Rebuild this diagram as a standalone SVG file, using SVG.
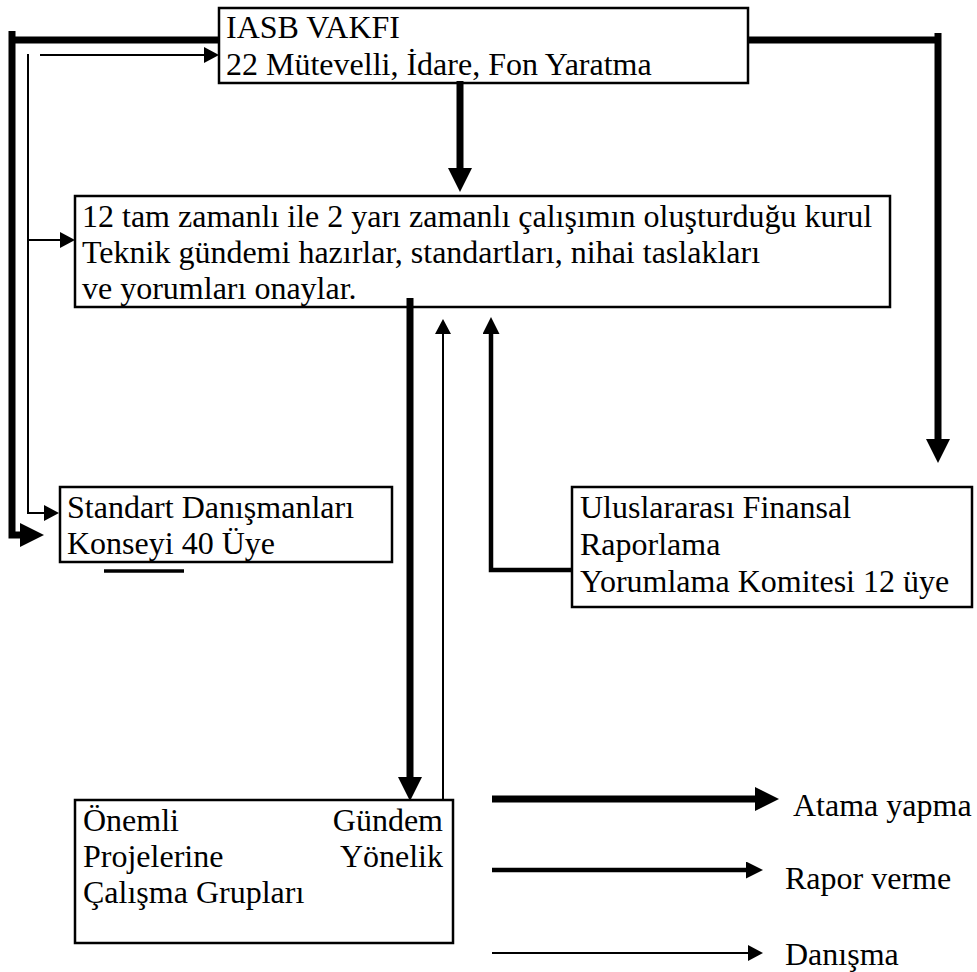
<svg xmlns="http://www.w3.org/2000/svg" width="977" height="972" viewBox="0 0 977 972">
<style>
  .box { fill: #ffffff; stroke: #000000; stroke-width: 2.5; }
  .t { font-family: "Liberation Serif", "Times New Roman", serif; font-size: 32px; fill: #000000; }
  .thick { fill: none; stroke: #000000; stroke-width: 7; stroke-linejoin: miter; }
  .med { fill: none; stroke: #000000; stroke-width: 4.5; }
  .thin { fill: none; stroke: #000000; stroke-width: 2; }
</style>
<defs>
  <marker id="hThick" markerUnits="userSpaceOnUse" markerWidth="24" markerHeight="24" viewBox="0 0 24 24" refX="0" refY="12" orient="auto">
    <path d="M0,0 L24,12 L0,24 z" fill="#000000"/>
  </marker>
  <marker id="hMed" markerUnits="userSpaceOnUse" markerWidth="17" markerHeight="17" viewBox="0 0 17 17" refX="0" refY="8.5" orient="auto">
    <path d="M0,0 L17,8.5 L0,17 z" fill="#000000"/>
  </marker>
  <marker id="hThin" markerUnits="userSpaceOnUse" markerWidth="15" markerHeight="16" viewBox="0 0 15 16" refX="0" refY="8" orient="auto">
    <path d="M0,0 L15,8 L0,16 z" fill="#000000"/>
  </marker>
</defs>
<rect x="0" y="0" width="977" height="972" fill="#ffffff"/>

<g id="iasb">
  <rect class="box" x="219" y="8" width="529" height="75"/>
  <text class="t" x="226" y="38">IASB VAKFI</text>
  <text class="t" x="226" y="75">22 Mütevelli, İdare, Fon Yaratma</text>
</g>

<g id="kurul">
  <rect class="box" x="75" y="196" width="815" height="111"/>
  <text class="t" x="82" y="227">12 tam zamanlı ile 2 yarı zamanlı çalışımın oluşturduğu kurul</text>
  <text class="t" x="82" y="263">Teknik gündemi hazırlar, standartları, nihai taslakları</text>
  <text class="t" x="82" y="299">ve yorumları onaylar.</text>
</g>

<g id="standart">
  <rect class="box" x="60" y="487" width="332" height="75"/>
  <text class="t" x="67" y="518">Standart Danışmanları</text>
  <text class="t" x="67" y="554">Konseyi 40 Üye</text>
  <line x1="104" y1="571" x2="184" y2="571" stroke="#000000" stroke-width="3.5"/>
</g>

<g id="yorumlama">
  <rect class="box" x="572" y="487" width="400" height="120"/>
  <text class="t" x="580" y="518">Uluslararası Finansal</text>
  <text class="t" x="580" y="555">Raporlama</text>
  <text class="t" x="580" y="592">Yorumlama Komitesi 12 üye</text>
</g>

<g id="calisma">
  <rect class="box" x="75" y="800" width="378" height="143"/>
  <text class="t" x="83" y="831">Önemli</text>
  <text class="t" x="443" y="831" text-anchor="end">Gündem</text>
  <text class="t" x="83" y="867">Projelerine</text>
  <text class="t" x="443" y="867" text-anchor="end">Yönelik</text>
  <text class="t" x="83" y="903">Çalışma Grupları</text>
</g>

<g id="connectors">
  <path class="thick" d="M12,40 H219"/>
  <path class="thick" d="M12,31 V535 H20" marker-end="url(#hThick)"/>
  <path class="thick" d="M748,40 H938"/>
  <path class="thick" d="M938,33 V439" marker-end="url(#hThick)"/>
  <path class="thick" d="M460,81 V168" marker-end="url(#hThick)"/>
  <path class="thick" d="M410,298 V777" marker-end="url(#hThick)"/>
  <path class="med" d="M572,570 H491 V334" marker-end="url(#hMed)"/>
  <path class="thin" d="M40,55 H204" marker-end="url(#hThin)"/>
  <path class="thin" d="M28,54 V513 H44" marker-end="url(#hThin)"/>
  <path class="thin" d="M28,240 H60" marker-end="url(#hThin)"/>
  <path class="thin" d="M443,800 V334" marker-end="url(#hThin)"/>
</g>

<g id="legend">
  <path class="thick" d="M492,799 H755" marker-end="url(#hThick)"/>
  <text class="t" x="793" y="816">Atama yapma</text>
  <path class="med" d="M492,870 H746" marker-end="url(#hMed)"/>
  <text class="t" x="785" y="889">Rapor verme</text>
  <path class="thin" d="M492,953 H748" marker-end="url(#hThin)"/>
  <text class="t" x="785" y="965">Danışma</text>
</g>
</svg>
